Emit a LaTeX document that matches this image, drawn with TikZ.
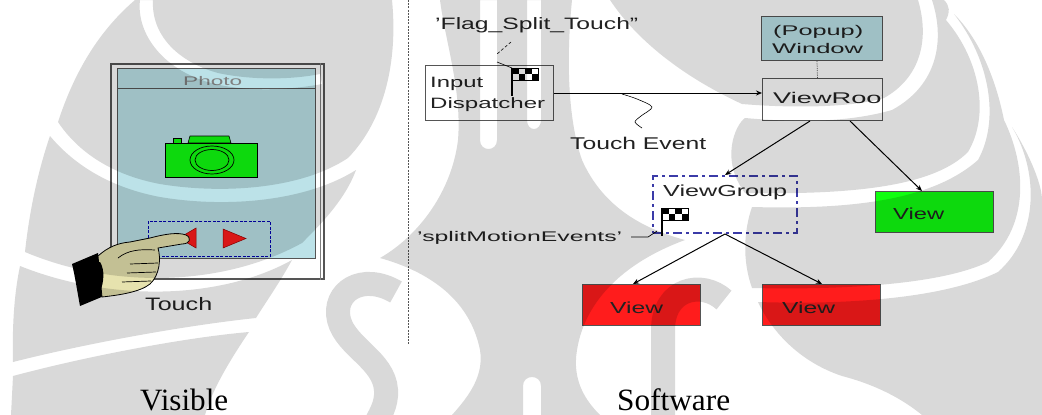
\documentclass[tikz,border=0pt]{standalone}
\usepackage{fontspec}
\setmainfont{Liberation Serif}
\setsansfont{Liberation Sans}
\usetikzlibrary{arrows.meta}

\definecolor{screen}{HTML}{BCE2E8}
\definecolor{viewgreen}{HTML}{10FF10}
\definecolor{viewred}{HTML}{FF1C1C}
\definecolor{vgblue}{HTML}{3B3BA8}
\definecolor{skin}{HTML}{E6E2AE}
\definecolor{frame}{HTML}{555555}
\definecolor{ink}{HTML}{222222}

% stretch a text horizontally to a given width, keeping its height
\newcommand\fitw[2]{\resizebox{#1}{\height}{#2}}
\newcommand\sz[1]{\fontsize{#1}{#1}\selectfont}

\tikzset{
  shade15/.style={fill=black, fill opacity=0.15, draw=none},
  shadestroke/.style={draw=black, draw opacity=0.15},
  box/.style={draw=frame, line width=1pt, inner sep=0, anchor=north west},
  lbl/.style={inner sep=0, anchor=base west, font=\sffamily, text=ink},
  conn/.style={draw=black, line width=1pt, -{Stealth[length=6pt,width=5pt]}},
  chkflag/.pic={
    \draw[line width=1.3pt] (0,0) -- (0,28);
    \foreach \i in {0,1,2,3}{
      \foreach \j in {0,1}{
        \pgfmathtruncatemacro\odd{mod(\i+\j,2)}
        \ifnum\odd=0 \fill (\i*6.5,\j*6) rectangle ++(6.5,6);\fi
      }
    }
    \draw[line width=0.5pt] (0,0) rectangle (26,12);
  }
}

\begin{document}
\begin{tikzpicture}[x=1pt,y=-1pt]
\useasboundingbox (0,0) rectangle (1042,415);

% ================= diagram =================
% phone
\node[box, draw=frame, line width=1.6pt, fill=white, minimum width=213pt, minimum height=215pt] (phone) at (110,63) {};
\draw[gray, line width=0.8pt] ([xshift=-4pt]phone.north east) -- ([xshift=-4pt]phone.south east);
\node[box, fill=screen, minimum width=198pt, minimum height=190pt] (screen) at (117,68) {};
\coordinate (tb) at (117,88);
\draw[frame, line width=0.8pt] (tb) -- (tb -| screen.east);
\node[lbl, text=gray] (photo) at (183,85) {\sz{12.5}\fitw{59pt}{Photo}};

% camera icon
\fill[viewgreen, draw=black, line width=0.6pt] (173,143) rectangle (181,138);
\fill[viewgreen, draw=black, line width=0.6pt] (188,143) -- (190,136) -- (229,136) -- (231,143) -- cycle;
\fill[viewgreen, draw=black, line width=0.8pt] (165,143) rectangle (257,177);
\draw[line width=0.7pt] (212,160) ellipse [x radius=22, y radius=14];
\draw[line width=0.7pt] (212,160) ellipse [x radius=17, y radius=10.5];

% button strip
\node[box, draw=blue!70!black, line width=0.8pt, dash pattern=on 3pt off 1.5pt, minimum width=122pt, minimum height=35pt] (buttons) at (148,221) {};
\fill[viewred, draw=red!60!black, line width=0.5pt] (196,228) -- (196,248) -- (179,238) -- cycle;
\fill[viewred, draw=red!60!black, line width=0.5pt] (223,229) -- (223,248) -- (246,238.5) -- cycle;

% pointing hand
\fill[black] (72,264) -- (98,253) -- (104,296) -- (80,306) .. controls (77,290) and (75,276) .. cycle;
\filldraw[fill=skin, draw=black, line width=0.8pt] (98,256) .. controls (108,247) and (118,243) .. (130,242)
   -- (150,238) .. controls (165,234) and (178,232) .. (186,235) .. controls (192,238) and (190,244) .. (182,244)
   -- (158,248) .. controls (161,258) and (160,275) .. (150,284) .. controls (140,292) and (120,295) .. (102,297) -- cycle;
\draw[line width=0.7pt] (118,258) .. controls (128,250) and (140,249) .. (155,250);
\draw[line width=0.7pt] (130,264) -- (158,263);
\draw[line width=0.7pt] (127,273) -- (156,272);
\draw[line width=0.7pt] (122,282) -- (151,281);
\fill[black] (100,262) .. controls (105,270) and (104,282) .. (100,292) -- (96,292) -- (96,262) -- cycle;
\node[lbl] (touch) at (145,310) {\sz{18}\fitw{67pt}{Touch}};

% divider
\coordinate (divtop) at (408,0);
\coordinate (divbot) at (408,345);
\draw[frame, line width=1pt, dash pattern=on 2pt off 1.2pt] (divtop) -- (divbot);

% input dispatcher
\node[lbl] (flagtxt) at (435,30) {\sz{16.5}\fitw{203pt}{'Flag\_Split\_Touch"}};
\node[box, minimum width=128pt, minimum height=55pt, fill=white] (disp) at (425,65) {};
\node[lbl] (disp1) at (430,87) {\sz{15}\fitw{53pt}{Input}};
\node[lbl] (disp2) at (430,108) {\sz{15}\fitw{115pt}{Dispatcher}};
\pic at (512,68) {chkflag};
\coordinate (fl1) at (511,42);
\coordinate (fl2) at (497,54);
\coordinate (fl3) at (497,62);
\coordinate (fl4) at (512,68);
\draw[line width=0.6pt, densely dashed] (fl1) -- (fl2);
\draw[line width=0.6pt] (fl3) -- (fl4);

% window and view root
\node[box, fill=screen, minimum width=121pt, minimum height=44pt] (win) at (761,16) {};
\node[lbl] (win1) at (773,35) {\sz{14}\fitw{90pt}{(Popup)}};
\node[lbl] (win2) at (772,53) {\sz{14}\fitw{91pt}{Window}};
\node[box, fill=white, minimum width=120pt, minimum height=42pt] (vroot) at (762,78) {};
\begin{scope}
  \clip (vroot.north west) rectangle ([xshift=-2pt]vroot.south east);
  \node[lbl] (vrootlbl) at (773,103) {\sz{15.5}\fitw{116pt}{ViewRoot}};
\end{scope}
\draw[frame, line width=0.8pt, densely dotted] ([xshift=-5pt]win.south) -- ([xshift=-5pt]vroot.north);

% touch event path
\draw[conn] (disp.east) -- (disp.east -| vroot.west);
\coordinate (sq) at (622,94);
\draw[line width=0.6pt] plot[smooth] coordinates {(sq) (637,99) (652,107) (641,116) (635,122) (642,128)};
\node[lbl] (tevent) at (570,149) {\sz{17}\fitw{136pt}{Touch Event}};

% view group
\node[box, draw=vgblue, line width=2pt, dash pattern=on 9pt off 4pt on 3pt off 4pt, minimum width=144pt, minimum height=57pt] (vg) at (652,175) {};
\node[lbl] (vglbl) at (663,196) {\sz{16}\fitw{124pt}{ViewGroup}};
\pic at (662,208) {chkflag};
\node[lbl] (split) at (417,241) {\sz{14}\fitw{205pt}{'splitMotionEvents'}};
\coordinate (sp1) at (631,237);
\coordinate (sp2) at (648,237);
\coordinate (sp3) at (657,231);
\draw[line width=0.7pt] (sp1) -- (sp2) -- (sp3);

% leaf views
\node[box, fill=viewgreen, minimum width=118pt, minimum height=41pt] (gview) at (875,191) {};
\node[lbl] (gviewlbl) at (893,219) {\sz{16}\fitw{51pt}{View}};
\node[box, fill=viewred, minimum width=118pt, minimum height=41pt] (rview1) at (582,284) {};
\node[lbl] (rview1lbl) at (610,313) {\sz{16}\fitw{53pt}{View}};
\node[box, fill=viewred, minimum width=118pt, minimum height=41pt] (rview2) at (762,284) {};
\node[lbl] (rview2lbl) at (782,313) {\sz{16}\fitw{53pt}{View}};

\draw[conn] ([xshift=48pt]vroot.south west) -- (vg.north);
\draw[conn] ([xshift=88pt]vroot.south west) -- ([xshift=47pt]gview.north west);
\draw[conn] (vg.south) -- ([xshift=51pt]rview1.north west);
\draw[conn] (vg.south) -- ([xshift=60pt]rview2.north west);

% captions
\node[inner sep=0, anchor=base west, font=\rmfamily] (visible) at (140,410) {\sz{31}\fitw{88pt}{Visible}};
\node[inner sep=0, anchor=base west, font=\rmfamily] (software) at (617,410) {\sz{31}\fitw{113pt}{Software}};

% ================= emblem printed over the page =================
\begin{scope}
\clip (0,0) rectangle (1042,415);
% left leaves
\fill[shade15, even odd rule]
  (135,0) -- (392,0) .. controls (398,60) and (385,120) .. (348,158)
  .. controls (300,190) and (220,194) .. (160,184) .. controls (112,175) and (78,152) .. (58,122)
  .. controls (75,70) and (100,30) .. (135,0) -- cycle
  (140,0) .. controls (136,35) and (165,72) .. (215,84) .. controls (250,92) and (290,90) .. (322,84)
  -- (320,74) .. controls (290,80) and (250,80) .. (218,73) .. controls (178,62) and (151,35) .. (153,0) -- cycle;
\fill[shade15]
  (50,136) .. controls (75,166) and (112,188) .. (160,197) .. controls (225,208) and (305,202) .. (356,170)
  .. controls (345,200) and (320,225) .. (302,243) .. controls (220,288) and (110,288) .. (25,252)
  .. controls (30,205) and (40,165) .. (50,136) -- cycle;
\fill[shade15]
  (20,266) .. controls (110,302) and (220,300) .. (292,260) .. controls (280,282) and (266,302) .. (256,318)
  .. controls (180,326) and (80,345) .. (13,362) .. controls (12,320) and (15,290) .. (20,266) -- cycle;
\fill[shade15]
  (13,376) .. controls (80,358) and (180,338) .. (249,332) .. controls (230,360) and (212,390) .. (205,415)
  -- (11,415) -- cycle;
% central trunk with its arms and the light streaks at its crown
\fill[shade15, even odd rule]
  (440,0) -- (572,0) .. controls (566,60) and (568,120) .. (582,160)
  .. controls (602,205) and (640,228) .. (685,240)
  .. controls (625,262) and (585,300) .. (577,350) .. controls (572,380) and (585,400) .. (600,415)
  -- (452,415) .. controls (470,395) and (484,375) .. (480,350)
  .. controls (470,300) and (430,272) .. (380,258) .. controls (420,235) and (452,190) .. (458,140)
  .. controls (462,90) and (445,40) .. (440,0) -- cycle
  (480,-1) -- (497,-1) -- (497,140) .. controls (497,152) and (480,152) .. (480,140) -- cycle
  (527,-1) -- (541,-1) -- (541,120) .. controls (541,132) and (527,132) .. (527,120) -- cycle
  (523,416) -- (523,386) .. controls (523,374) and (541,374) .. (541,386) -- (541,416) -- cycle;
% curls
\draw[shadestroke, line width=24pt] (396,292) .. controls (362,272) and (332,292) .. (339,320)
  .. controls (346,347) and (384,360) .. (386,390) .. controls (387,405) and (380,415) .. (372,430);
\draw[shadestroke, line width=24pt] (724,300) .. controls (702,280) and (663,288) .. (663,330) -- (663,430);
% right leaves
\fill[shade15]
  (610,0) -- (918,0) .. controls (930,40) and (920,78) .. (884,98) .. controls (850,108) and (790,108) .. (742,104)
  .. controls (690,80) and (640,45) .. (610,0) -- cycle;
\fill[shade15]
  (932,0) -- (944,0) .. controls (950,6) and (950,12) .. (946,20)
  .. controls (980,60) and (990,115) .. (968,152) .. controls (935,185) and (860,195) .. (745,193)
  .. controls (720,160) and (735,125) .. (745,118)
  .. controls (800,123) and (850,122) .. (892,110) .. controls (938,85) and (945,40) .. (932,0) -- cycle;
\fill[shade15]
  (954,14) .. controls (980,40) and (996,80) .. (1004,120)
  .. controls (1026,165) and (1030,225) .. (988,262) .. controls (940,285) and (840,290) .. (752,288)
  .. controls (742,260) and (744,230) .. (752,207)
  .. controls (860,210) and (935,198) .. (978,160) .. controls (1000,120) and (990,60) .. (954,14) -- cycle;
\fill[shade15]
  (1012,127) .. controls (1030,155) and (1042,185) .. (1042,200) -- (1042,415) -- (922,415)
  .. controls (895,393) and (865,382) .. (842,376) .. controls (800,362) and (772,332) .. (758,302)
  .. controls (850,305) and (945,298) .. (998,272) .. controls (1040,235) and (1038,170) .. (1012,127) -- cycle;
\end{scope}
\end{tikzpicture}
\end{document}
